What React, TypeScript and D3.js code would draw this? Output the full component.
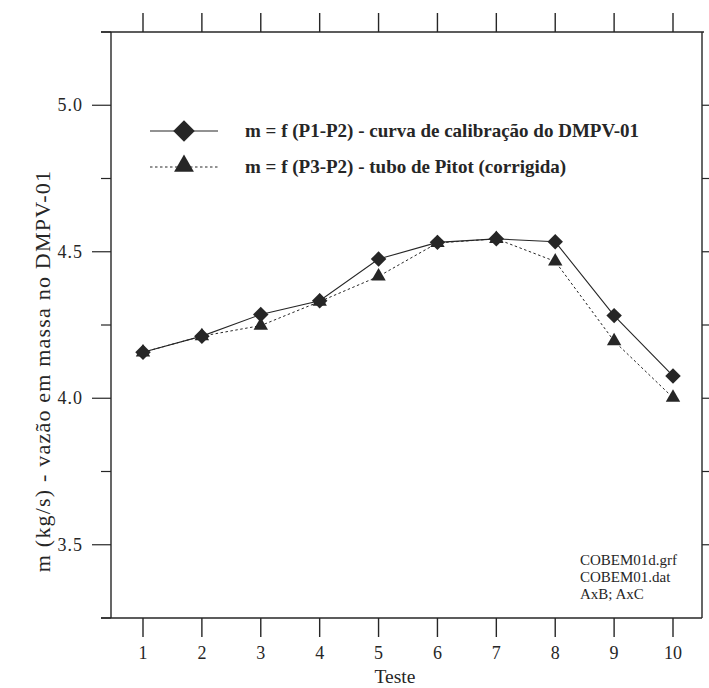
import React from "react";
import * as d3 from "d3";

const teste = [1, 2, 3, 4, 5, 6, 7, 8, 9, 10];
const curvaCalibracao = [4.157, 4.212, 4.286, 4.333, 4.475, 4.532, 4.544, 4.534, 4.282, 4.076];
const tuboPitot = [4.157, 4.212, 4.248, 4.330, 4.416, 4.530, 4.544, 4.467, 4.195, 4.002];
const yMajorTicks = [3.5, 4.0, 4.5, 5.0];
const yMinorTicks = [3.25, 3.75, 4.25, 4.75, 5.25];
const yRightTicks = [3.5, 3.75, 4.0, 4.25, 4.5, 4.75, 5.0];
const legendLabels = [
  "m = f (P1-P2) - curva de calibração do DMPV-01",
  "m = f (P3-P2) - tubo de Pitot (corrigida)",
];
const yAxisTitle = "m (kg/s) - vazão em massa no DMPV-01";
const xAxisTitle = "Teste";
const notes = ["COBEM01d.grf", "COBEM01.dat", "AxB; AxC"];

const W = 709;
const H = 688;
const LEFT = 111;
const RIGHT = 702;
const TOP = 32;
const BOTTOM = 618;
const INK = "#262626";
const FONT = "'Liberation Serif', 'Times New Roman', serif";

export default function App() {
  const x = d3.scaleLinear().domain([1, 10]).range([143, 673]);
  const y = d3.scaleLinear().domain([3.25, 5.25]).range([BOTTOM, TOP]);

  const line = d3
    .line<number>()
    .x((_, i) => x(teste[i]))
    .y((d) => y(d));

  const diamond = d3.symbol(d3.symbolSquare, 120)();
  const tri = d3.symbol(d3.symbolTriangle, 90)();
  const diamondL = d3.symbol(d3.symbolSquare, 230)();
  const triL = d3.symbol(d3.symbolTriangle, 170)();

  const legY = [131, 167];

  return (
    <svg
      width={W}
      height={H}
      style={{ position: "absolute", left: 0, top: 0, background: "#fff" }}
      fontFamily={FONT}
    >
      <rect x={0} y={0} width={W} height={H} fill="#fff" />
      {/* frame */}
      <g stroke={INK} strokeWidth={1.4} fill="none">
        <line x1={LEFT - 10} x2={RIGHT + 2} y1={TOP} y2={TOP} />
        <line x1={LEFT - 10} x2={RIGHT} y1={BOTTOM} y2={BOTTOM} />
        <line x1={LEFT} x2={LEFT} y1={TOP} y2={BOTTOM} />
        <line x1={RIGHT} x2={RIGHT} y1={TOP} y2={BOTTOM} />
      </g>
      {/* x ticks top & bottom */}
      <g stroke={INK} strokeWidth={1.4}>
        {teste.map((t) => (
          <g key={t}>
            <line x1={x(t)} x2={x(t)} y1={TOP} y2={TOP - 19} />
            <line x1={x(t)} x2={x(t)} y1={BOTTOM} y2={BOTTOM + 19} />
          </g>
        ))}
      </g>
      {/* y ticks left & right */}
      <g stroke={INK} strokeWidth={1.2}>
        {yMajorTicks.map((v) => (
          <line key={v} x1={LEFT} x2={LEFT - 19} y1={y(v)} y2={y(v)} />
        ))}
        {yMinorTicks.map((v) => (
          <line key={v} x1={LEFT} x2={LEFT - 10} y1={y(v)} y2={y(v)} />
        ))}
        {yRightTicks.map((v) => (
          <line key={v} x1={RIGHT} x2={RIGHT + 8} y1={y(v)} y2={y(v)} />
        ))}
      </g>
      {/* tick labels */}
      <g fill={INK} fontSize={18}>
        {teste.map((t) => (
          <text key={t} x={x(t)} y={659} textAnchor="middle">
            {t}
          </text>
        ))}
        {yMajorTicks.map((v) => (
          <text key={v} x={LEFT - 28} y={y(v) + 6} textAnchor="end" letterSpacing={1}>
            {d3.format(".1f")(v)}
          </text>
        ))}
      </g>
      <text x={395} y={683} textAnchor="middle" fontSize={19.5} fill={INK}>
        {xAxisTitle}
      </text>
      <text
        transform={`translate(50, 371) rotate(-90)`}
        textAnchor="middle"
        fontSize={22}
        fill={INK}
        letterSpacing={1.2}
      >
        {yAxisTitle}
      </text>
      {/* series */}
      <path d={line(tuboPitot) ?? ""} fill="none" stroke={INK} strokeWidth={1} strokeDasharray="2.5,2.5" />
      <path d={line(curvaCalibracao) ?? ""} fill="none" stroke={INK} strokeWidth={1.1} />
      <g fill={INK}>
        {tuboPitot.map((v, i) => (
          <path key={"t" + i} d={tri ?? ""} transform={`translate(${x(teste[i])},${y(v)})`} />
        ))}
        {curvaCalibracao.map((v, i) => (
          <path key={"d" + i} d={diamond ?? ""} transform={`translate(${x(teste[i])},${y(v)}) rotate(45)`} />
        ))}
      </g>
      {/* legend */}
      <g>
        <line x1={150} x2={218} y1={legY[0]} y2={legY[0]} stroke={INK} strokeWidth={1.1} />
        <path d={diamondL ?? ""} transform={`translate(184,${legY[0]}) rotate(45)`} fill={INK} />
        <line x1={150} x2={218} y1={legY[1]} y2={legY[1]} stroke={INK} strokeWidth={1} strokeDasharray="2.5,2.5" />
        <path d={triL ?? ""} transform={`translate(184,${legY[1] - 1})`} fill={INK} />
        {legendLabels.map((l, i) => (
          <text key={i} x={245} y={legY[i] + 6} fontSize={19} fontWeight="bold" fill={INK}>
            {l}
          </text>
        ))}
      </g>
      {/* notes */}
      <g fill={INK} fontSize={15}>
        {notes.map((n, i) => (
          <text key={i} x={580} y={565 + i * 17}>
            {n}
          </text>
        ))}
      </g>
    </svg>
  );
}
